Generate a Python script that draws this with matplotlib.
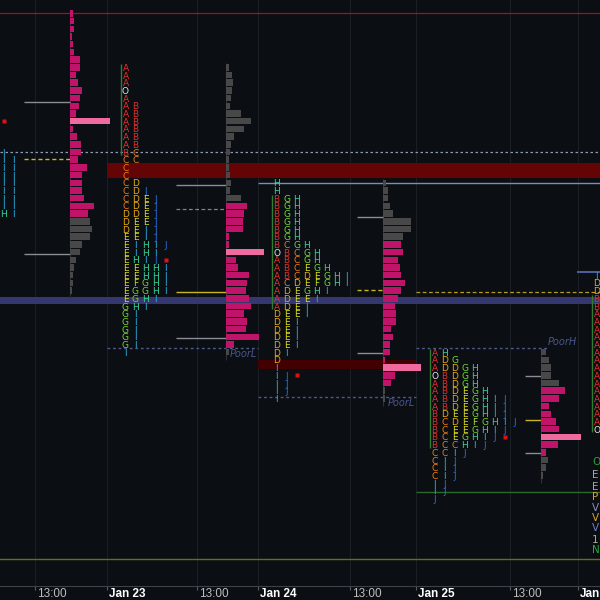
import numpy as np
import matplotlib.pyplot as plt

plt.rcParams.update({
    "font.family": ["DejaVu Sans"],
    "figure.dpi": 100,
})

BG = "#0b0e13"
GRID = "#1a1f26"
MAGENTA = "#c0136a"
POC_PINK = "#ef6b9f"
OUT_GRAY = "#484848"
IB_GREEN = "#2f7d32"
CLOSE_RED = "#e01010"

TICK = 0.25
COL_W = 10                    # one TPO column, x units
TPO_GAP = 18.5                # session start -> first TPO column
VP_GAP = [125, 119, 125, 125]  # session start -> volume profile baseline

# ── x axis ───────────────────────────────────────────────
DAY_X = [-55, 107, 258, 416, 578]
TICK_X = [35, 107, 197, 258, 350, 416, 510, 578]
TICK_LABELS = ["13:00", "Jan 23", "13:00", "Jan 24", "13:00", "Jan 25", "13:00", "Jan"]

# ── TPO letters (one string per price row, highest row first) ──
TPO_TOP = [4896.0, 4897.75, 4894.0, 4888.5, 4891.0]
TPO_S1 = ["ABCD", "ABCD", "ABCD", "ABCD", "ABCDI", "ABCDII", "ABCDII", "ABCDII",
          "ABCDII", "ABCDII", "ABCDII", "ABCDII", "ABCDHI"]
TPO_S2 = ["A", "A", "A", "O", "A", "AB", "AB", "AB", "AB", "AB", "AB", "BC", "CC",
          "C", "C", "CD", "CDJ", "CDEJ", "CDEJ", "DDEJ", "DEEJ", "DEIJ", "EEIJ",
          "EIHIJ", "EIHI", "EHIJ", "EEHHI", "EEHHI", "EFGHI", "EGGHI", "EGHI",
          "GHI", "GI", "GI", "GI", "GI", "GI", "I"]
TPO_S3 = ["H", "H", "BGH", "BGH", "BGH", "BGH", "BGH", "BGH", "BCGH", "OBCGH",
          "ABCGH", "ABCEGH", "ABCDEGHI", "ACDEFGHI", "ADEGHI", "ADEEI", "ADEI",
          "DEEI", "DEI", "DEI", "DEI", "DEI", "DI", "D", "I", "IJ", "IJ", "IJ", "I"]
TPO_S4 = ["AH", "ADG", "ADDGH", "OBDGH", "ABDGH", "ABDEGH", "ABDEGHIJ", "ABDEGHIJ",
          "BDEEGHIJ", "BCDEFGHIJ", "BCEEGHIJ", "BCEGHIJ", "BCCHIJ", "CCIJ", "CIJ",
          "CIJ", "CIJ", "IJ", "IJ", "J"]
TPO_S5 = ["I", "D", "D", "B", "B"] + ["A"] * 15 + ["O"]
TPO_ROWS = [TPO_S1, TPO_S2, TPO_S3, TPO_S4, TPO_S5]
CLOSE = [4896.0, 4891.5, 4887.75, 4885.75, None]

LETTER_COLORS = {
    "A": "#e8302c", "B": "#d9302a", "C": "#f07d14", "D": "#e9a814",
    "E": "#dcdc22", "F": "#b4e02c", "G": "#78d43a", "H": "#3ad49a",
    "I": "#2aaede", "J": "#2472d8", "O": "#e6e6e6",
}

# ── volume profiles ──────────────────────────────────────
VP_TOP = [4899.5, 4897.75, 4894.0, 4888.5]
VP_S1 = [3, 4, 4, 2, 3, 4, 10, 10, 6, 8, 12, 10, 9, 6, 40, 3, 7, 11, 11, 8, 17, 12,
         12, 12, 14, 24, 18, 20, 22, 20, 12, 10, 6, 4, 3, 3, 2]
VP_S2 = [3, 6, 7, 6, 5, 4, 15, 25, 18, 8, 5, 4, 3, 3, 4, 5, 4, 15, 21, 18, 17, 17,
         3, 3, 38, 10, 12, 23, 21, 20, 23, 25, 18, 21, 20, 33, 8, 3]
VP_S3 = [3, 5, 5, 7, 10, 28, 28, 20, 18, 20, 15, 17, 18, 22, 18, 15, 12, 13, 13, 8,
         10, 7, 7, 2, 38, 12, 8, 2, 2]
VP_S4 = [5, 8, 10, 10, 18, 24, 18, 8, 10, 15, 18, 40, 17, 5, 7, 5, 2]
VP_VOL = [VP_S1, VP_S2, VP_S3, VP_S4]
VA_HIGH = [4899.5, 4893.25, 4892.0, 4887.25]
VA_LOW = [4893.0, 4888.75, 4887.5, 4885.25]

# levels drawn between TPO and volume profile
SD_HIGH = [4896.62, 4893.93, 4892.89, 4887.73]
VWAP = [4894.77, 4890.45, 4890.52, 4886.30]
SD_LOW = [4891.69, 4888.96, 4888.47, 4885.23]
MID_DASH = [None, 4893.15, None, None]
VWAP_DASHED = [True, False, True, False]

# poor highs / lows
POOR_PRICE = [4888.65, 4887.05, 4888.65]
POOR_SESSION = [1, 2, 3]
POOR_LABEL = ["PoorL", "PoorL", "PoorH"]

# right edge tags
TAGS = ["O", "E", "E", "P", "V", "V", "V", "1", "N"]
TAG_PRICE = [4884.93, 4884.51, 4884.12, 4883.80, 4883.44, 4883.12, 4882.79, 4882.40, 4882.08]
TAG_COLORS = ["#2e9e3a", "#a8a8a8", "#a8a8a8", "#e0a030", "#8a8fc0",
              "#e0a030", "#6f7fc8", "#a8a8a8", "#2eaa3a"]


def draw_tpo(ax, s):
    x0 = DAY_X[s] + TPO_GAP
    rows = TPO_ROWS[s]
    ib = []
    for i, row in enumerate(rows):
        p = TPO_TOP[s] - i * TICK
        for j, ch in enumerate(row):
            x = x0 + j * COL_W
            if ch in "ABO":
                ib.append(p)
            if x < 0:   # scrolled off the left edge
                continue
            ax.text(x, p, ch, color=LETTER_COLORS[ch], fontsize=6.5,
                    ha="center", va="center_baseline", zorder=5)
    if x0 - 5 > 0:
        ax.vlines(x0 - 5, min(ib) - TICK * 0.4, max(ib) + TICK * 0.4, color=IB_GREEN,
                  lw=1, zorder=4)
    if CLOSE[s] is not None:
        i = int(round((TPO_TOP[s] - CLOSE[s]) / TICK))
        ax.plot(x0 + len(rows[i]) * COL_W, CLOSE[s], "s", ms=3.2, color=CLOSE_RED,
                mec="none", zorder=6)


def draw_vp(ax, s):
    xb = DAY_X[s] + VP_GAP[s]
    vols = np.array(VP_VOL[s])
    prices = VP_TOP[s] - TICK * np.arange(len(vols))
    poc = int(np.argmax(vols))
    colors = []
    for k, p in enumerate(prices):
        if k == poc:
            colors.append(POC_PINK)
        elif VA_LOW[s] - 1e-6 <= p <= VA_HIGH[s] + 1e-6:
            colors.append(MAGENTA)
        else:
            colors.append(OUT_GRAY)
    ax.vlines(xb, prices[-1] - TICK, prices[0] + TICK / 2, color="#2c3138", lw=0.8, zorder=2)
    ax.barh(prices, vols, left=xb, height=TICK * 0.84, color=colors, linewidth=0, zorder=4)

    start = DAY_X[s] + TPO_GAP + max(len(r) for r in TPO_ROWS[s]) * COL_W
    ax.hlines([SD_HIGH[s], SD_LOW[s]], start, xb, color="#8a8f96", lw=1, zorder=3)
    ax.hlines(VWAP[s], start, xb, color="#c8b820", lw=1, zorder=3,
              linestyles=(0, (3, 2)) if VWAP_DASHED[s] else "solid")
    if MID_DASH[s] is not None:
        ax.hlines(MID_DASH[s], start, xb, color="#7c8590", lw=0.9,
                  linestyles=(0, (3, 2)), zorder=3)


fig = plt.figure(figsize=(6, 6), facecolor=BG)
ax = fig.add_axes([0, 14 / 600, 1, 586 / 600])
ax.set_facecolor(BG)
ax.set_xlim(0, 600)
ax.set_ylim(4880.91, 4899.935)

for x in TICK_X:
    ax.axvline(x, color=GRID, lw=0.8, zorder=0)

# zones and naked levels
ax.fill_between([DAY_X[1], 600], 4894.15, 4894.65, color="#640404", lw=0, zorder=1)
ax.axhspan(4890.05, 4890.30, color="#35386f", lw=0, zorder=1)
ax.fill_between([DAY_X[2], DAY_X[3]], 4887.95, 4888.25, color="#420000", lw=0, zorder=1)
ax.axhline(4899.5, color="#9c1515", lw=0.9, zorder=2)
ax.axhline(4895.0, color="#8d9bb5", lw=0.9, ls=(0, (2, 2)), zorder=2)
ax.hlines(4894.0, DAY_X[2], 600, color="#7d8fa8", lw=1, zorder=2)
ax.hlines(4890.45, DAY_X[3], 600, color="#b89a1e", lw=0.9, linestyles=(0, (3, 2)), zorder=2)
ax.hlines(4883.95, DAY_X[3], 600, color="#2b6a2b", lw=1, zorder=2)
ax.axhline(4881.8, color="#6b6b1c", lw=1, zorder=2)
ax.hlines(4891.1, DAY_X[4] - 1, 600, color="#4b5b9b", lw=1.5, zorder=2)

for price, s, lab in zip(POOR_PRICE, POOR_SESSION, POOR_LABEL):
    end = DAY_X[s + 1] if s + 1 < len(DAY_X) else 600
    high = lab.endswith("H")
    ax.hlines(price, DAY_X[s], end - (30 if high else 0), color="#4d5a8c", lw=1,
              linestyles=(0, (2, 2)), zorder=2)
    ax.text(end - 1, price + (0.03 if high else -0.05), lab, color="#4a5590", fontsize=7,
            style="italic", ha="right", va="bottom" if high else "top", zorder=3)

for s in range(len(VP_VOL)):
    draw_vp(ax, s)
for s in range(len(TPO_ROWS)):
    draw_tpo(ax, s)

for tag, p, c in zip(TAGS, TAG_PRICE, TAG_COLORS):
    ax.text(592, p, tag, color=c, fontsize=7.5, ha="left", va="center", zorder=6)

# axis
for sp in ["top", "right", "left"]:
    ax.spines[sp].set_visible(False)
ax.spines["bottom"].set_color("#3c424a")
ax.set_yticks([])
ax.set_xticks(TICK_X)
ax.set_xticklabels([])
ax.tick_params(axis="x", length=3, color="#555b63", direction="out")
for x, lab in zip(TICK_X, TICK_LABELS):
    bold = lab.startswith("Jan")
    ax.text(x + 2, -0.004, lab, transform=ax.get_xaxis_transform(), ha="left", va="top",
            fontsize=8.5, family="Liberation Sans", color="#ffffff" if bold else "#bdbdbd",
            fontweight="bold" if bold else "normal", clip_on=False)

fig.savefig("out.png", dpi=100, facecolor=BG)
